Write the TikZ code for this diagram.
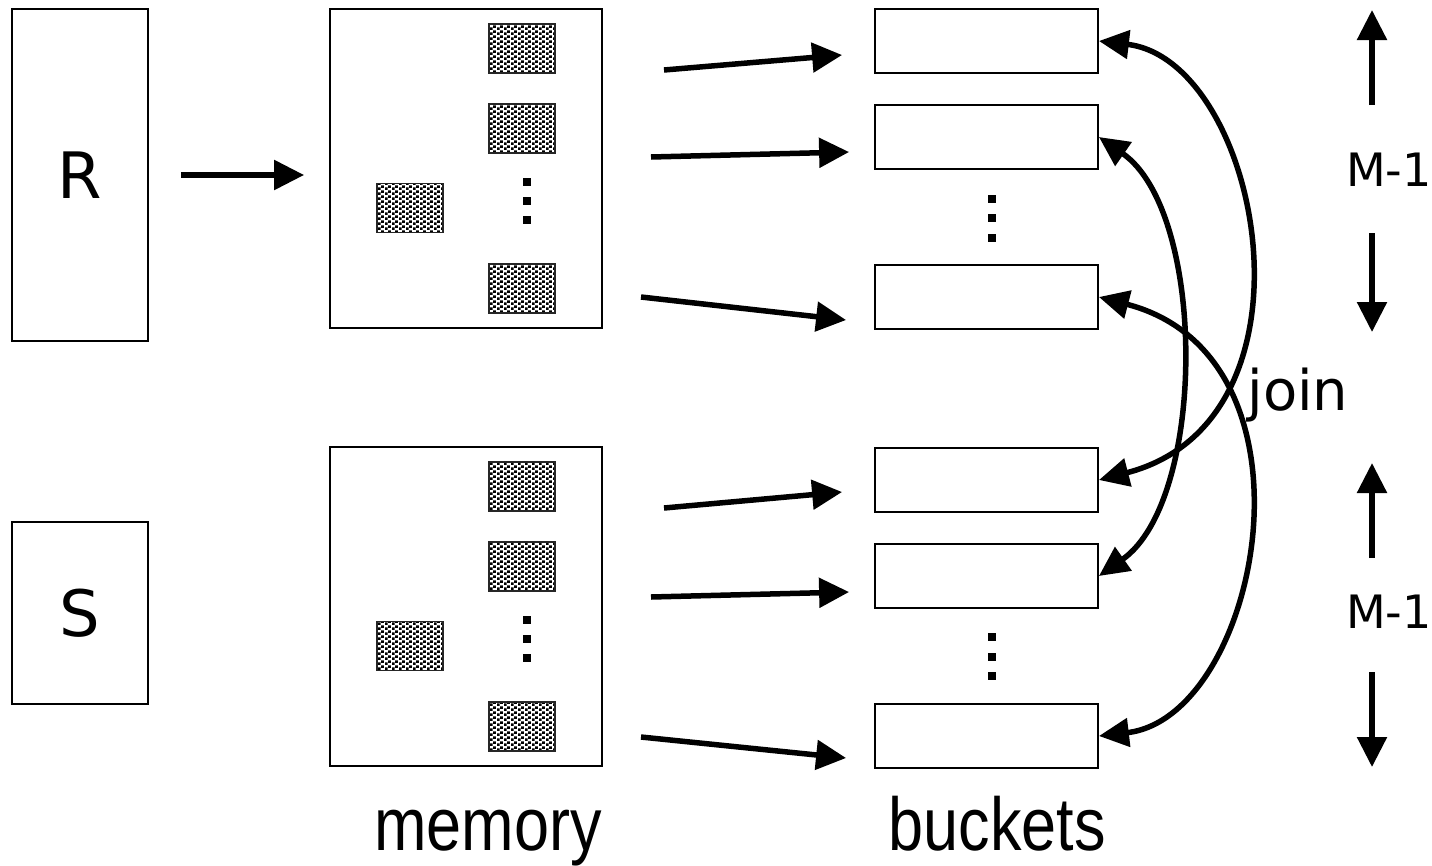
\documentclass[tikz,border=0pt]{standalone}
\usepackage{fontspec}
\setmainfont{DejaVu Sans}
\newfontfamily\arialfont{Liberation Sans}
\usetikzlibrary{arrows.meta,patterns,calc}
\pgfdeclarepatternformonly{blockdots}{\pgfpointorigin}{\pgfqpoint{7pt}{5pt}}{\pgfqpoint{7pt}{5pt}}{%
  \pgfpathrectangle{\pgfqpoint{0pt}{0pt}}{\pgfqpoint{3pt}{3pt}}%
  \pgfpathrectangle{\pgfqpoint{3.5pt}{2.5pt}}{\pgfqpoint{3pt}{3pt}}%
  \pgfusepath{fill}}
\tikzset{
  box/.style={draw=black, line width=1.8pt, inner sep=0pt},
  relbox/.style={box, minimum width=136pt, font=\fontsize{64}{64}\selectfont},
  membox/.style={box, minimum width=272pt, minimum height=319pt},
  bucket/.style={box, minimum width=223pt, minimum height=64pt},
  blk/.style={draw=black!85, line width=1.8pt, pattern=blockdots, minimum width=66pt, minimum height=49pt, inner sep=0pt},
  sq/.style={fill=black, minimum size=8pt, inner sep=0pt},
  arr/.style={line width=5.5pt, -{Triangle[length=30pt,width=29pt]}},
  dbl/.style={line width=5.5pt, {Triangle[length=30pt,width=28pt]}-{Triangle[length=30pt,width=28pt]}},
  lbl/.style={font=\fontsize{46}{46}\selectfont, inner sep=0pt},
  captxt/.style={font=\arialfont\fontsize{75}{75}\selectfont, inner sep=0pt, anchor=base}
}
\begin{document}
\begin{tikzpicture}[x=1pt,y=-1pt]
\useasboundingbox (0,0) rectangle (1432,865);

% relations
\node[relbox, minimum height=332pt] (R) at (80,175) {R};
\node[relbox, minimum height=182pt] (S) at (80,613) {S};

% memory boxes
\node[membox] (mem1) at (466,168.5) {};
\node[membox] (mem2) at (466,606.5) {};

% blocks in memory 1
\node[blk] (k11) at (522,48.5) {};
\node[blk] (k12) at (522,128.5) {};
\node[blk] (k13) at (522,288.5) {};
\node[blk] (k10) at (410,208) {};
\node[sq] (d11) at (527,182) {};
\node[sq] (d12) at (527,201) {};
\node[sq] (d13) at (527,220) {};
% blocks in memory 2
\node[blk] (k21) at (522,486.5) {};
\node[blk] (k22) at (522,566.5) {};
\node[blk] (k23) at (522,726.5) {};
\node[blk] (k20) at (410,646) {};
\node[sq] (d21) at (527,620) {};
\node[sq] (d22) at (527,639) {};
\node[sq] (d23) at (527,658) {};

% buckets
\node[bucket] (b1) at (986.5,41) {};
\node[bucket] (b2) at (986.5,137) {};
\node[bucket] (b3) at (986.5,297) {};
\node[bucket] (b4) at (986.5,480) {};
\node[bucket] (b5) at (986.5,576) {};
\node[bucket] (b6) at (986.5,736) {};
\node[sq] (e11) at (992,199) {};
\node[sq] (e12) at (992,218) {};
\node[sq] (e13) at (992,238) {};
\node[sq] (e21) at (992,637) {};
\node[sq] (e22) at (992,657) {};
\node[sq] (e23) at (992,676) {};

% R -> memory
\draw[arr] ([xshift=32pt]R.east) -- ([xshift=-25pt]R.east -| mem1.west);

% memory -> buckets
\coordinate (s1) at (664,70);
\coordinate (s2) at (651,157);
\coordinate (s3) at (641,297);
\coordinate (s4) at (664,508);
\coordinate (s5) at (651,597);
\coordinate (s6) at (641,737);
\draw[arr] (s1) -- ($(b1.west)+(-32,14)$);
\draw[arr] (s2) -- ($(b2.west)+(-25,15)$);
\draw[arr] (s3) -- ($(b3.west)+(-28,23)$);
\draw[arr] (s4) -- ($(b4.west)+(-32,12)$);
\draw[arr] (s5) -- ($(b5.west)+(-25,16)$);
\draw[arr] (s6) -- ($(b6.west)+(-28,22)$);

% join curves
\draw[dbl] (b1.east) .. controls (1260,60) and (1330,420) .. (b4.east);
\draw[dbl] (b2.east) .. controls (1207,212) and (1207,500) .. (b5.east);
\draw[dbl] (b3.east) .. controls (1330,357) and (1260,717) .. (b6.east);
\node[font=\fontsize{56}{56}\selectfont, inner sep=0pt, anchor=base] (join) at (1298,410) {join};

% M-1 labels and arrows
\node[lbl] (m1) at (1389,170) {M-1};
\node[lbl] (m2) at (1389,612) {M-1};
\coordinate (u1a) at (1372,105);
\coordinate (u1b) at (1372,10);
\coordinate (v1a) at (1372,233);
\coordinate (v1b) at (1372,332);
\coordinate (u2a) at (1372,558);
\coordinate (u2b) at (1372,463);
\coordinate (v2a) at (1372,672);
\coordinate (v2b) at (1372,767);
\draw[arr] (u1a) -- (u1b);
\draw[arr] (v1a) -- (v1b);
\draw[arr] (u2a) -- (u2b);
\draw[arr] (v2a) -- (v2b);

% captions
\node[captxt] (memlbl) at (488,850) {\scalebox{0.84}[1]{memory}};
\node[captxt] (buklbl) at (997,850) {\scalebox{0.84}[1]{buckets}};
\end{tikzpicture}
\end{document}
